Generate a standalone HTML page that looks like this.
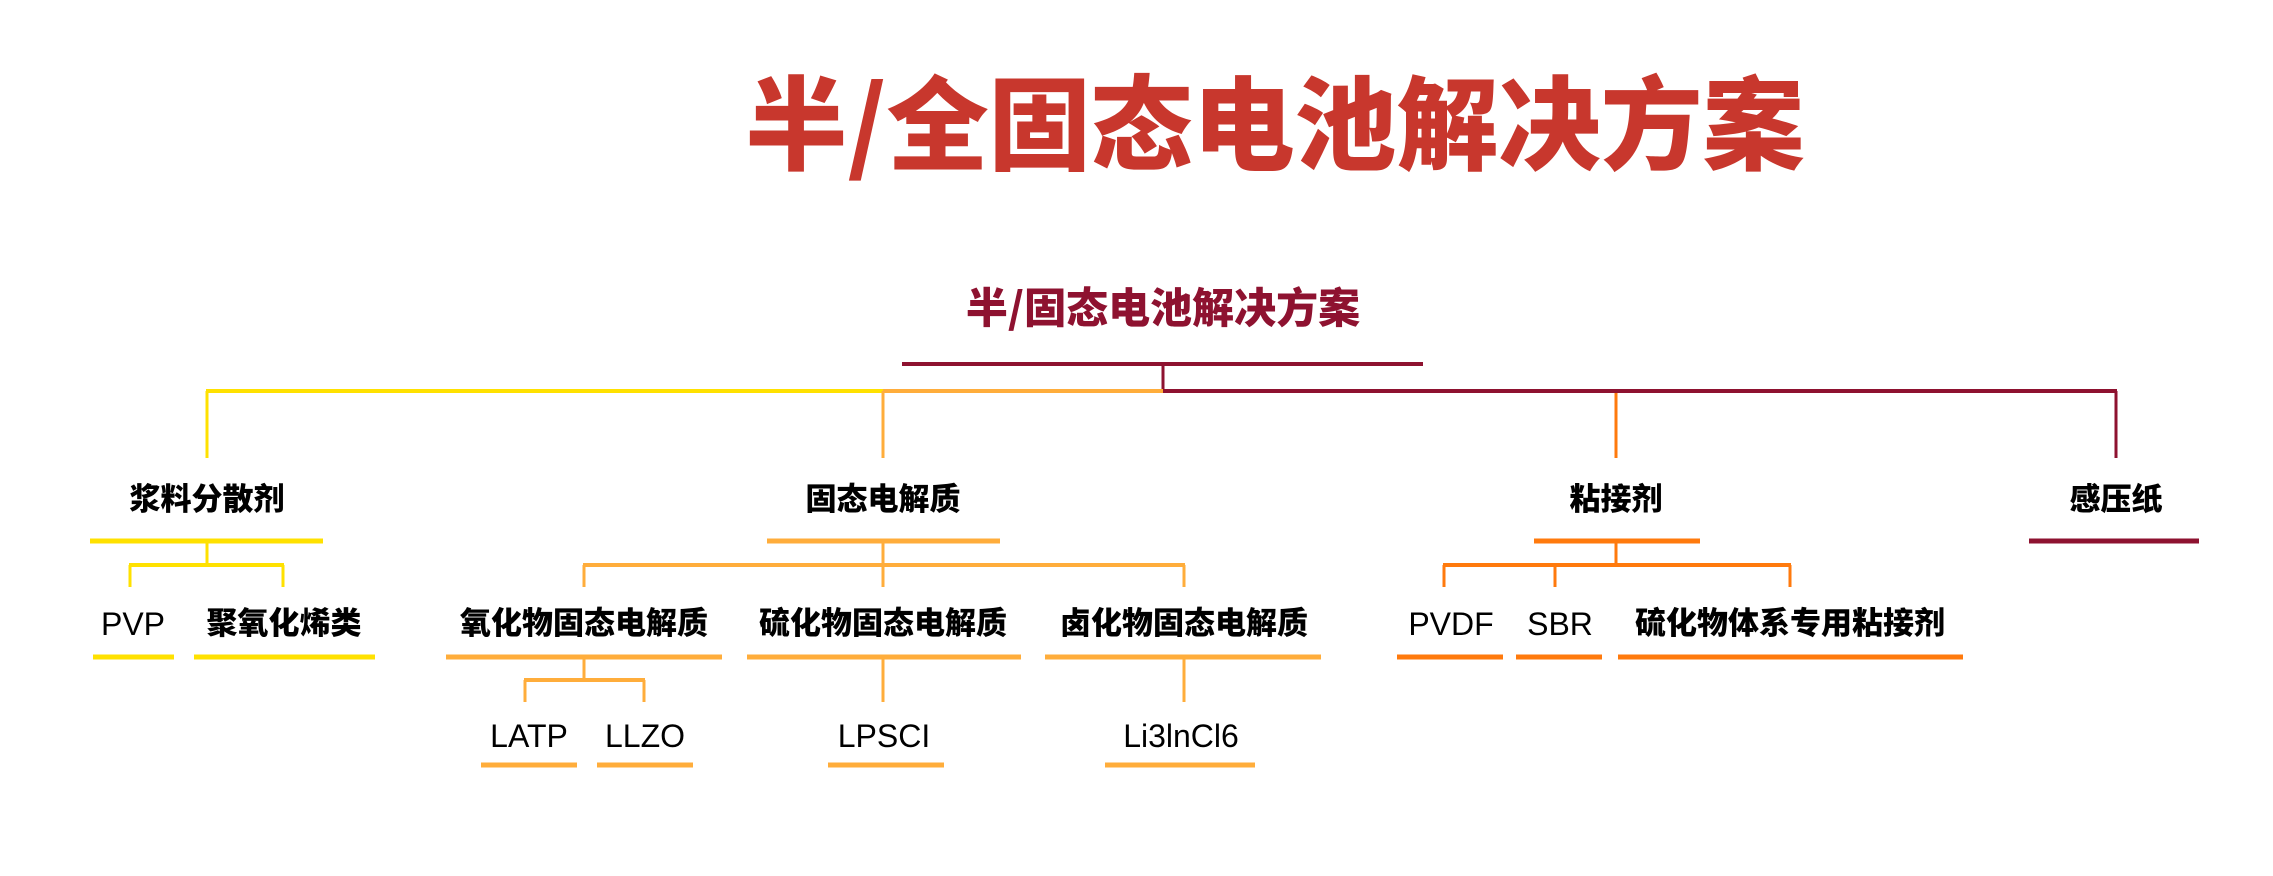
<!DOCTYPE html>
<html><head><meta charset="utf-8"><style>
html,body{margin:0;padding:0;background:#fff;}
svg{display:block;}
.t{font-family:"Liberation Sans","Noto Sans CJK SC",sans-serif;}
</style></head><body>
<svg width="2273" height="876" viewBox="0 0 2273 876" xmlns="http://www.w3.org/2000/svg">
<g class="t" text-anchor="middle">
<text x="1275" y="162" font-size="102" font-weight="900" fill="#c8372d" font-family="Noto Sans CJK SC, sans-serif">半/全固态电池解决方案</text>
<text x="1163" y="323" font-size="42" font-weight="900" fill="#8e1230" font-family="Noto Sans CJK SC, sans-serif">半/固态电池解决方案</text>
<g font-size="31" font-weight="900" fill="#000" font-family="Noto Sans CJK SC, sans-serif">
<text x="207" y="510">浆料分散剂</text>
<text x="883" y="510">固态电解质</text>
<text x="1616" y="510">粘接剂</text>
<text x="2116" y="510">感压纸</text>
<text x="284" y="634">聚氧化烯类</text>
<text x="584" y="634">氧化物固态电解质</text>
<text x="883" y="634">硫化物固态电解质</text>
<text x="1184" y="634">卤化物固态电解质</text>
<text x="1790" y="634">硫化物体系专用粘接剂</text>
</g>
<g font-size="32" fill="#000" font-family="Liberation Sans, sans-serif">
<text x="133" y="635">PVP</text>
<text x="1451" y="635">PVDF</text>
<text x="1560" y="635">SBR</text>
<text x="529" y="747">LATP</text>
<text x="645" y="747">LLZO</text>
<text x="884" y="747">LPSCI</text>
<text x="1181" y="747">Li3lnCl6</text>
</g>
</g>
<g fill="none" stroke-linecap="butt">
<line x1="902" y1="364" x2="1423" y2="364" stroke="#8e1230" stroke-width="4"/>
<line x1="1163" y1="364" x2="1163" y2="391" stroke="#8e1230" stroke-width="3"/>
<line x1="1163" y1="391" x2="2117" y2="391" stroke="#8e1230" stroke-width="4"/>
<line x1="2116" y1="391" x2="2116" y2="458" stroke="#8e1230" stroke-width="3"/>
<line x1="2029" y1="541" x2="2199" y2="541" stroke="#8e1230" stroke-width="5"/>
<line x1="206" y1="391" x2="883" y2="391" stroke="#ffe100" stroke-width="4"/>
<line x1="207" y1="391" x2="207" y2="458" stroke="#ffe100" stroke-width="3"/>
<line x1="90" y1="541" x2="323" y2="541" stroke="#ffe100" stroke-width="5"/>
<line x1="207" y1="541" x2="207" y2="565" stroke="#ffe100" stroke-width="3"/>
<line x1="129" y1="565" x2="284" y2="565" stroke="#ffe100" stroke-width="4"/>
<line x1="130" y1="565" x2="130" y2="587" stroke="#ffe100" stroke-width="3"/>
<line x1="283" y1="565" x2="283" y2="587" stroke="#ffe100" stroke-width="3"/>
<line x1="93" y1="657" x2="174" y2="657" stroke="#ffe100" stroke-width="5"/>
<line x1="194" y1="657" x2="375" y2="657" stroke="#ffe100" stroke-width="5"/>
<line x1="883" y1="391" x2="1163" y2="391" stroke="#ffad3b" stroke-width="4"/>
<line x1="883" y1="391" x2="883" y2="458" stroke="#ffad3b" stroke-width="3"/>
<line x1="767" y1="541" x2="1000" y2="541" stroke="#ffad3b" stroke-width="5"/>
<line x1="883" y1="541" x2="883" y2="565" stroke="#ffad3b" stroke-width="3"/>
<line x1="583" y1="565" x2="1185" y2="565" stroke="#ffad3b" stroke-width="4"/>
<line x1="584" y1="565" x2="584" y2="587" stroke="#ffad3b" stroke-width="3"/>
<line x1="883" y1="565" x2="883" y2="587" stroke="#ffad3b" stroke-width="3"/>
<line x1="1184" y1="565" x2="1184" y2="587" stroke="#ffad3b" stroke-width="3"/>
<line x1="446" y1="657" x2="722" y2="657" stroke="#ffad3b" stroke-width="5"/>
<line x1="747" y1="657" x2="1021" y2="657" stroke="#ffad3b" stroke-width="5"/>
<line x1="1045" y1="657" x2="1321" y2="657" stroke="#ffad3b" stroke-width="5"/>
<line x1="584" y1="657" x2="584" y2="680" stroke="#ffad3b" stroke-width="3"/>
<line x1="524" y1="680" x2="645" y2="680" stroke="#ffad3b" stroke-width="4"/>
<line x1="525" y1="680" x2="525" y2="702" stroke="#ffad3b" stroke-width="3"/>
<line x1="644" y1="680" x2="644" y2="702" stroke="#ffad3b" stroke-width="3"/>
<line x1="883" y1="657" x2="883" y2="702" stroke="#ffad3b" stroke-width="3"/>
<line x1="1184" y1="657" x2="1184" y2="702" stroke="#ffad3b" stroke-width="3"/>
<line x1="481" y1="765" x2="577" y2="765" stroke="#ffad3b" stroke-width="5"/>
<line x1="597" y1="765" x2="693" y2="765" stroke="#ffad3b" stroke-width="5"/>
<line x1="828" y1="765" x2="944" y2="765" stroke="#ffad3b" stroke-width="5"/>
<line x1="1105" y1="765" x2="1255" y2="765" stroke="#ffad3b" stroke-width="5"/>
<line x1="1616" y1="393" x2="1616" y2="458" stroke="#ff7a0d" stroke-width="3"/>
<line x1="1534" y1="541" x2="1700" y2="541" stroke="#ff7a0d" stroke-width="5"/>
<line x1="1616" y1="541" x2="1616" y2="565" stroke="#ff7a0d" stroke-width="3"/>
<line x1="1443" y1="565" x2="1791" y2="565" stroke="#ff7a0d" stroke-width="4"/>
<line x1="1444" y1="565" x2="1444" y2="587" stroke="#ff7a0d" stroke-width="3"/>
<line x1="1555" y1="565" x2="1555" y2="587" stroke="#ff7a0d" stroke-width="3"/>
<line x1="1790" y1="565" x2="1790" y2="587" stroke="#ff7a0d" stroke-width="3"/>
<line x1="1397" y1="657" x2="1503" y2="657" stroke="#ff7a0d" stroke-width="5"/>
<line x1="1516" y1="657" x2="1602" y2="657" stroke="#ff7a0d" stroke-width="5"/>
<line x1="1618" y1="657" x2="1963" y2="657" stroke="#ff7a0d" stroke-width="5"/>
</g>
</svg>
</body></html>
